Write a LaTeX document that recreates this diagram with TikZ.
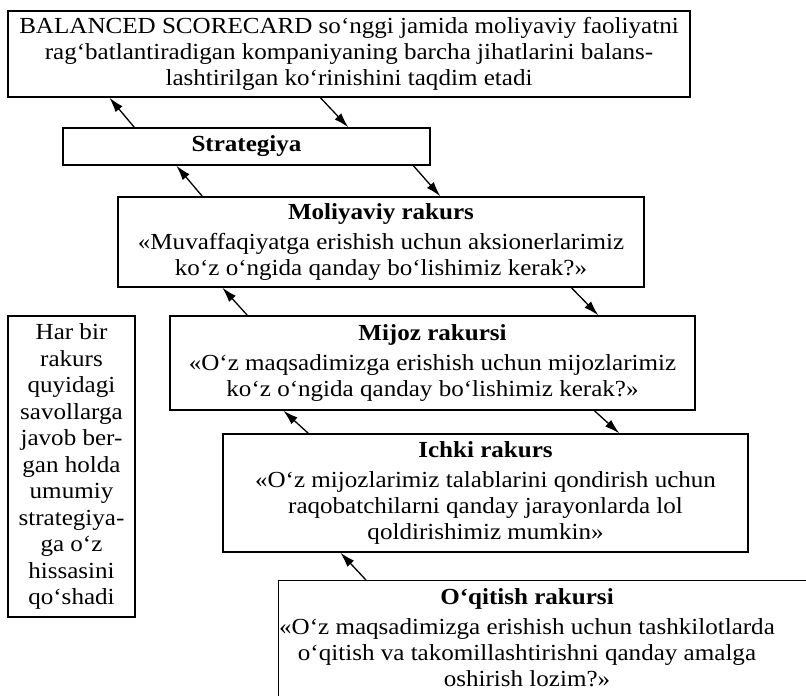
\documentclass[tikz,border=0pt]{standalone}
\usepackage{fontspec}
\setmainfont{Liberation Serif}[FakeStretch=1.09]
\usetikzlibrary{arrows.meta}

\tikzset{
  rakbox/.style={draw, line width=1.3pt, align=center, inner sep=0pt,
    font=\fontsize{23}{26}\selectfont},
  arr/.style={line width=1.3pt, -{Latex[length=15pt,width=9pt]}},
}

\begin{document}
\begin{tikzpicture}[x=1pt,y=-1pt]
\useasboundingbox (0,0) rectangle (806,696);
\clip (0,0) rectangle (806,696);

% boxes
\node[rakbox, minimum width=682pt, minimum height=86pt] (bsc) at (349,54)
  {BALANCED SCORECARD so‘nggi jamida moliyaviy faoliyatni\\
   rag‘batlantiradigan kompaniyaning barcha jihatlarini balans-\\
   lashtirilgan ko‘rinishini taqdim etadi};
\node[rakbox, minimum width=367pt, minimum height=37pt] (strat) at (246.5,146.5)
  {\textbf{Strategiya}};
\node[rakbox, minimum width=526pt, minimum height=90pt] (moli) at (381,242)
  {\textbf{Moliyaviy rakurs}\\[4pt]
   «Muvaffaqiyatga erishish uchun aksionerlarimiz\\
   ko‘z o‘ngida qanday bo‘lishimiz kerak?»};
\node[rakbox, minimum width=525pt, minimum height=94pt] (mijoz) at (432.5,363)
  {\textbf{Mijoz rakursi}\\[4pt]
   «O‘z maqsadimizga erishish uchun mijozlarimiz\\
   ko‘z o‘ngida qanday bo‘lishimiz kerak?»};
\node[rakbox, minimum width=525pt, minimum height=118pt] (ichki) at (485.5,493)
  {\textbf{Ichki rakurs}\\[4pt]
   «O‘z mijozlarimiz talablarini qondirish uchun\\
   raqobatchilarni qanday jarayonlarda lol\\
   qoldirishimiz mumkin»};
\node[rakbox, minimum width=560pt, minimum height=160pt, anchor=north west] (oqit) at (278,580) {};
\node[rakbox, draw=none, anchor=north] (oqittxt) at (527,588)
  {\textbf{O‘qitish rakursi}\\[4pt]
   «O‘z maqsadimizga erishish uchun tashkilotlarda\\
   o‘qitish va takomillashtirishni qanday amalga\\
   oshirish lozim?»};
\node[rakbox, minimum width=127pt, minimum height=301pt,
  font=\fontsize{23}{26.5}\selectfont] (har) at (71.5,466.5)
  {Har bir\\ rakurs\\ quyidagi\\ savollarga\\ javob ber-\\ gan holda\\
   umumiy\\ strategiya-\\ ga o‘z\\ hissasini\\ qo‘shadi};

% arrows
\draw[arr] ([xshift=72pt]strat.north west) -- ([xshift=102pt]bsc.south west);
\draw[arr] ([xshift=313pt]bsc.south west) -- ([xshift=286pt]strat.north west);
\draw[arr] ([xshift=85pt]moli.north west) -- ([xshift=114pt]strat.south west);
\draw[arr] ([xshift=351pt]strat.south west) -- ([xshift=323pt]moli.north west);
\draw[arr] ([xshift=78pt]mijoz.north west) -- ([xshift=105pt]moli.south west);
\draw[arr] ([xshift=454pt]moli.south west) -- ([xshift=429pt]mijoz.north west);
\draw[arr] ([xshift=86pt]ichki.north west) -- ([xshift=114pt]mijoz.south west);
\draw[arr] ([xshift=425pt]mijoz.south west) -- ([xshift=397pt]ichki.north west);
\draw[arr] ([xshift=88pt]oqit.north west) -- ([xshift=118pt]ichki.south west);

\end{tikzpicture}
\end{document}
